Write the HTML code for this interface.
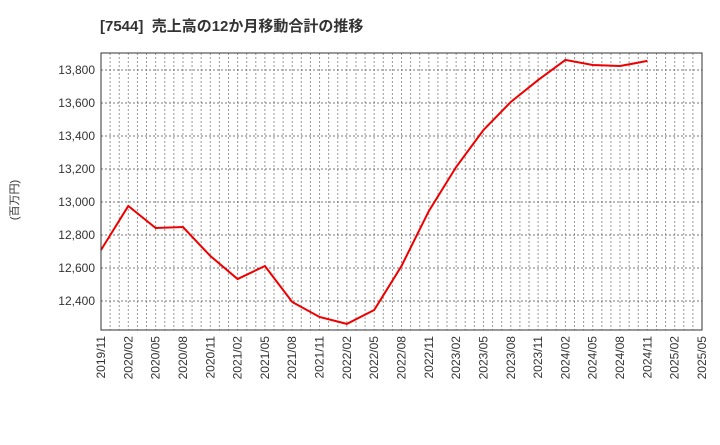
<!DOCTYPE html>
<html><head><meta charset="utf-8"><style>
body{margin:0;background:#fff;font-family:"Liberation Sans","Noto Sans CJK JP",sans-serif;}
</style></head><body>
<svg width="720" height="440" xmlns="http://www.w3.org/2000/svg">
<text x="100" y="31" font-size="15" font-weight="bold" fill="#333" font-family="Liberation Sans, Noto Sans CJK JP, sans-serif">[7544]&#160; 売上高の12か月移動合計の推移</text>
<text transform="translate(18,200) rotate(-90)" font-size="11" fill="#333" text-anchor="middle" font-family="Liberation Sans, Noto Sans CJK JP, sans-serif">(百万円)</text>
<g id="grid"></g><g id="axes"></g><g id="series"></g>
<rect x="101" y="53" width="601" height="277" fill="none" stroke="#333" stroke-width="1"/>
</svg>
<script>
const xLabels=["2019/11","2020/02","2020/05","2020/08","2020/11","2021/02","2021/05","2021/08","2021/11","2022/02","2022/05","2022/08","2022/11","2023/02","2023/05","2023/08","2023/11","2024/02","2024/05","2024/08","2024/11","2025/02","2025/05"];
const yTicks=[12400,12600,12800,13000,13200,13400,13600,13800];
const values=[12709,12976,12842,12848,12673,12533,12612,12394,12303,12261,12345,12612,12945,13212,13436,13606,13739,13861,13830,13824,13855];
const NS="http://www.w3.org/2000/svg";
const x0=101,x1=702,y0=53,y1=330,ymin=12224,ymax=13903;
const months=(xLabels.length-1)*3;
const X=i=>x0+(x1-x0)*i/(xLabels.length-1);
const Xm=m=>x0+(x1-x0)*m/months;
const Y=v=>y1-(v-ymin)/(ymax-ymin)*(y1-y0);
function mk(t,a,p){const e=document.createElementNS(NS,t);for(const k in a)e.setAttribute(k,a[k]);p.appendChild(e);return e;}
const grid=document.getElementById('grid'),axes=document.getElementById('axes'),series=document.getElementById('series');
for(let m=1;m<months;m++){const l=mk('line',{x1:Xm(m),x2:Xm(m),y1:y0,y2:y1,stroke:'#999','stroke-dasharray':'2,2','stroke-width':1},grid);

}
yTicks.forEach(v=>{const y=Y(v);const l=mk('line',{x1:x0,x2:x1,y1:y,y2:y,stroke:'#777','stroke-dasharray':'2,2','stroke-width':1},grid);


const t=mk('text',{x:95,y:y+4,'text-anchor':'end','font-size':12,fill:'#333'},axes);t.textContent=v.toLocaleString('en-US');

});
xLabels.forEach((s,i)=>{const x=X(i);const t=mk('text',{transform:`translate(${x+4},336) rotate(-90)`,'text-anchor':'end','font-size':12,fill:'#333'},axes);t.textContent=s;

});
const p=mk('polyline',{points:values.map((v,i)=>X(i)+','+Y(v)).join(' '),fill:'none',stroke:'#ee0000','stroke-width':2},series);


</script>
</body></html>
